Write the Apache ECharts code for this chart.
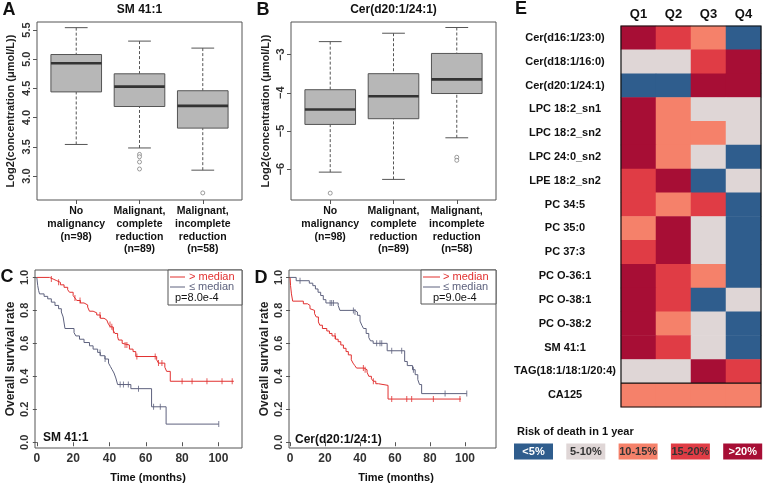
<!DOCTYPE html>
<html><head><meta charset="utf-8">
<script src="https://cdn.jsdelivr.net/npm/echarts@6/dist/echarts.min.js"></script>
<style>html,body{margin:0;padding:0;background:#fff}#c{width:763px;height:486px}</style>
</head><body><div id="c"></div>
<script>
const FONT = '"Liberation Sans", Arial, Helvetica, sans-serif';

// ---------- Panels A/B : box plots ----------
const boxCategories = ['No\nmalignancy\n(n=98)', 'Malignant,\ncomplete\nreduction\n(n=89)', 'Malignant,\nincomplete\nreduction\n(n=58)'];
// [lower whisker, Q1, median, Q3, upper whisker]
const smStats = [[3.54, 4.44, 4.93, 5.08, 5.54], [3.48, 4.19, 4.53, 4.75, 5.31], [3.10, 3.82, 4.20, 4.46, 5.19]];
const smOutliers = [[2, 3.37], [2, 3.33], [2, 3.24], [2, 3.12], [3, 2.71]];
const smTicks = [3.0, 3.5, 4.0, 4.5, 5.0, 5.5];
const cerStats = [[-6.08, -4.83, -4.44, -3.92, -2.66], [-6.27, -4.68, -4.09, -3.50, -2.44], [-5.18, -4.02, -3.65, -2.97, -2.29]];
const cerOutliers = [[1, -6.63], [3, -5.69], [3, -5.77]];
const cerTicks = [-6, -5, -4, -3];

// ---------- Panels C/D : Kaplan-Meier ----------
const timeTicks = [0, 20, 40, 60, 80, 100];
const survTicks = [0, 0.2, 0.4, 0.6, 0.8, 1.0];
const smHigh = [[0,1],[7,0.99],[9,0.98],[11,0.97],[13,0.955],[15,0.94],[17,0.925],[18,0.91],[20,0.89],[21,0.875],[22,0.86],[24,0.845],[26,0.833],[28,0.82],[29,0.795],[31,0.785],[33,0.772],[35,0.752],[37,0.742],[38.5,0.73],[39.5,0.715],[40.5,0.70],[42,0.68],[43,0.66],[44.5,0.64],[45,0.62],[47,0.60],[48,0.59],[51,0.565],[53,0.55],[54.5,0.52],[66,0.50],[67,0.48],[70.5,0.455],[71.5,0.43],[73.5,0.37],[108.5,0.37]];
const smLow = [[0,1],[0.5,0.95],[1,0.92],[1.5,0.90],[4,0.885],[6,0.87],[8,0.85],[10,0.83],[12,0.81],[13.5,0.79],[14.5,0.76],[15.5,0.69],[20.5,0.665],[21.5,0.645],[23.5,0.625],[26,0.605],[29,0.585],[31,0.565],[33.5,0.545],[35,0.525],[37.5,0.505],[39.5,0.48],[40.5,0.46],[41.5,0.44],[42.5,0.42],[43.5,0.39],[44.5,0.35],[51.8,0.325],[63.2,0.215],[71.2,0.11],[100.2,0.11]];
const smHighCensor = [8, 12, 21, 23.8, 34.8, 40.3, 41.3, 42.2, 48.6, 49.6, 55.1, 65.2, 67, 68.9, 80, 85.5, 93.7, 102, 107.6];
const smLowCensor = [34.8, 37.6, 45.9, 47.7, 50.4, 56, 64.3, 68, 100.2];
const cerHigh = [[0,1],[0.3,0.95],[0.8,0.90],[1.5,0.856],[7.6,0.84],[10,0.83],[11.4,0.81],[12.5,0.80],[14,0.78],[15,0.76],[16.2,0.73],[17,0.71],[18.5,0.69],[21,0.675],[22.5,0.66],[24,0.645],[26,0.625],[27.5,0.61],[29,0.59],[30.5,0.57],[32,0.55],[33.3,0.53],[35,0.50],[36,0.48],[37,0.465],[38,0.45],[42.3,0.44],[44,0.425],[45,0.40],[46.5,0.385],[47.6,0.37],[49,0.355],[50.5,0.345],[56,0.262],[97.7,0.262]];
const cerLow = [[0,1],[3.5,0.98],[11,0.965],[13,0.95],[14.5,0.93],[16,0.91],[17.5,0.89],[19,0.865],[20.5,0.845],[27.5,0.83],[28.5,0.80],[37,0.79],[38.5,0.77],[40,0.735],[41,0.71],[42,0.69],[43.5,0.66],[45,0.635],[46,0.615],[47.5,0.60],[55.5,0.555],[65.5,0.49],[67,0.465],[70,0.44],[71.5,0.41],[73,0.38],[74,0.35],[75.2,0.295],[101,0.295]];
const cerHighCensor = [25.7, 41.9, 42.9, 47.6, 58.1, 66.7, 69.5, 81.9, 97.1];
const cerLowCensor = [5.7, 22.9, 23.8, 24.8, 36.2, 37.1, 49.5, 51.4, 52.4, 58.1, 63.8, 70.5, 88.6, 101];
const legendNames = ['> median', '\u2264 median'];
const pValues = ['p=8.0e-4', 'p=9.0e-4'];

// ---------- Panel E : heatmap ----------
const quartiles = ['Q1', 'Q2', 'Q3', 'Q4'];
const rowNames = ['Cer(d16:1/23:0)', 'Cer(d18:1/16:0)', 'Cer(d20:1/24:1)', 'LPC 18:2_sn1', 'LPC 18:2_sn2', 'LPC 24:0_sn2', 'LPE 18:2_sn2', 'PC 34:5', 'PC 35:0', 'PC 37:3', 'PC O-36:1', 'PC O-38:1', 'PC O-38:2', 'SM 41:1', 'TAG(18:1/18:1/20:4)', 'CA125'];
// risk class 0:<5% 1:5-10% 2:10-15% 3:15-20% 4:>20%
const riskClass = [
  [4, 3, 2, 0], [1, 1, 3, 4], [0, 0, 4, 4], [4, 2, 1, 1], [4, 2, 2, 1], [4, 2, 1, 0], [3, 4, 0, 1],
  [3, 2, 3, 0], [2, 4, 1, 0], [3, 4, 1, 0], [4, 3, 2, 0], [4, 3, 0, 1], [4, 2, 1, 0], [4, 3, 1, 0],
  [1, 1, 4, 3], [2, 2, 2, 2]
];
const riskLabels = ['<5%', '5-10%', '10-15%', '15-20%', '>20%'];
const riskColors = ['#2f5d8d', '#dfd6d6', '#f5816a', '#e03c45', '#a70e35'];
const riskTextColors = ['#fff', '#333', '#333', '#333', '#fff'];

const RED = '#e1302f', SLATE = '#5e627e', FRAME = '#555';

function survAt(curve, t) { let s = curve[0][1]; for (const p of curve) { if (p[0] <= t) s = p[1]; else break; } return s; }

function boxRender(params, api) {
  const x = api.value(0), lo = api.value(1), q1 = api.value(2), med = api.value(3), q3 = api.value(4), hi = api.value(5);
  const half = 0.4, cap = 0.18;
  const tl = api.coord([x - half, q3]), br = api.coord([x + half, q1]);
  const m = api.coord([x, med]), pHi = api.coord([x, hi]), pLo = api.coord([x, lo]);
  const cl = api.coord([x - cap, hi])[0], cr = api.coord([x + cap, hi])[0];
  const dash = { stroke: '#555', lineWidth: 1, lineDash: [3, 2] };
  const solid = { stroke: '#555', lineWidth: 1 };
  return { type: 'group', children: [
    { type: 'line', shape: { x1: pHi[0], y1: pHi[1], x2: pHi[0], y2: tl[1] }, style: dash },
    { type: 'line', shape: { x1: pLo[0], y1: pLo[1], x2: pLo[0], y2: br[1] }, style: dash },
    { type: 'line', shape: { x1: cl, y1: pHi[1], x2: cr, y2: pHi[1] }, style: solid },
    { type: 'line', shape: { x1: cl, y1: pLo[1], x2: cr, y2: pLo[1] }, style: solid },
    { type: 'rect', shape: { x: tl[0], y: tl[1], width: br[0] - tl[0], height: br[1] - tl[1] }, style: { fill: '#b7b7b7', stroke: '#555', lineWidth: 1 } },
    { type: 'line', shape: { x1: tl[0], y1: m[1], x2: br[0], y2: m[1] }, style: { stroke: '#333', lineWidth: 2.6 } }
  ] };
}

const tickLbl = { fontFamily: FONT, fontWeight: 'bold', color: '#333' };
function boxXAxis(g) {
  return { gridIndex: g, type: 'value', min: 0.38, max: 3.62, axisLine: { show: false }, splitLine: { show: false },
    axisTick: { show: true, customValues: [1, 2, 3], length: 4, lineStyle: { color: FRAME } },
    axisLabel: { customValues: [1, 2, 3], formatter: v => boxCategories[Math.round(v) - 1], fontFamily: FONT, fontWeight: 'bold', fontSize: 10.5, lineHeight: 12.7, color: '#111', margin: 5, verticalAlign: 'top' } };
}
function yAx(g, min, max, ticks, fmt, name, gap, nameSize) {
  return { gridIndex: g, type: 'value', min: min, max: max, axisLine: { show: false }, splitLine: { show: false },
    axisTick: { show: true, customValues: ticks, length: 4, lineStyle: { color: FRAME } },
    axisLabel: Object.assign({ customValues: ticks, rotate: 90, formatter: fmt, fontSize: 11, margin: 5 }, tickLbl),
    name: name, nameLocation: 'middle', nameGap: gap, nameRotate: 90,
    nameTextStyle: { fontFamily: FONT, fontWeight: 'bold', fontSize: nameSize, color: '#222' } };
}
function timeAxis(g, min, max) {
  return { gridIndex: g, type: 'value', min: min, max: max, axisLine: { show: false }, splitLine: { show: false },
    axisTick: { show: true, customValues: timeTicks, length: 4, lineStyle: { color: FRAME } },
    axisLabel: Object.assign({ customValues: timeTicks, fontSize: 12, margin: 5 }, tickLbl) };
}

const outlierStyle = { color: '#fff', borderColor: '#666', borderWidth: 0.8 };
const series = [];
series.push({ type: 'custom', xAxisIndex: 0, yAxisIndex: 0, renderItem: boxRender, data: smStats.map((s, i) => [i + 1].concat(s)) });
series.push({ type: 'scatter', xAxisIndex: 0, yAxisIndex: 0, symbol: 'circle', symbolSize: 4, itemStyle: outlierStyle, data: smOutliers, z: 5 });
series.push({ type: 'custom', xAxisIndex: 1, yAxisIndex: 1, renderItem: boxRender, data: cerStats.map((s, i) => [i + 1].concat(s)) });
series.push({ type: 'scatter', xAxisIndex: 1, yAxisIndex: 1, symbol: 'circle', symbolSize: 4, itemStyle: outlierStyle, data: cerOutliers, z: 5 });
function km(ax, curve, color) { return { type: 'line', xAxisIndex: ax, yAxisIndex: ax, step: 'end', symbol: 'none', lineStyle: { color: color, width: 1 }, data: curve, z: 3 }; }
function cens(ax, curve, times, color) { return { type: 'scatter', xAxisIndex: ax, yAxisIndex: ax, symbol: 'rect', symbolSize: [1, 6], itemStyle: { color: color }, data: times.map(t => [t, survAt(curve, t)]), z: 3 }; }
series.push(km(2, smLow, SLATE), km(2, smHigh, RED), cens(2, smLow, smLowCensor, SLATE), cens(2, smHigh, smHighCensor, RED));
series.push(km(3, cerHigh, RED), km(3, cerLow, SLATE), cens(3, cerHigh, cerHighCensor, RED), cens(3, cerLow, cerLowCensor, SLATE));
const heatData = [];
riskClass.forEach((row, r) => row.forEach((v, c) => heatData.push([c, r, v])));
const heatIndex = series.length;
series.push({ type: 'heatmap', xAxisIndex: 4, yAxisIndex: 4, data: heatData, itemStyle: { borderWidth: 0 }, emphasis: { disabled: true } });

const graphic = [];
function txt(x, y, text, size, opts) {
  graphic.push({ type: 'text', x: x, y: y, z: 50, style: Object.assign({ text: text, font: (opts && opts.weight || 'bold') + ' ' + size + 'px ' + FONT, fill: '#111', align: 'center', verticalAlign: 'middle' }, opts && opts.style || {}) });
}
// panel letters and titles
txt(9, 10, 'A', 18); txt(263, 10, 'B', 18); txt(7, 277, 'C', 18); txt(261, 278, 'D', 18); txt(521, 9, 'E', 18);
txt(139.5, 10, 'SM 41:1', 12); txt(393.5, 10, 'Cer(d20:1/24:1)', 12);
txt(43, 438, 'SM 41:1', 12, { style: { align: 'left' } });
txt(295, 440, 'Cer(d20:1/24:1)', 12, { style: { align: 'left' } });
txt(148, 478, 'Time (months)', 11); txt(396, 478, 'Time (months)', 11);
// KM legends
function kmLegend(x0, y0, w, h, textX, lineX1, lineX2, pX, p) {
  graphic.push({ type: 'rect', z: 40, shape: { x: x0, y: y0, width: w, height: h }, style: { fill: '#fff', stroke: FRAME, lineWidth: 1 } });
  graphic.push({ type: 'line', z: 50, shape: { x1: lineX1, y1: y0 + 7, x2: lineX2, y2: y0 + 7 }, style: { stroke: RED, lineWidth: 1 } });
  graphic.push({ type: 'line', z: 50, shape: { x1: lineX1, y1: y0 + 17, x2: lineX2, y2: y0 + 17 }, style: { stroke: SLATE, lineWidth: 1 } });
  txt(textX, y0 + 7, legendNames[0], 11, { weight: 'normal', style: { align: 'left', fill: RED } });
  txt(textX, y0 + 17, legendNames[1], 11, { weight: 'normal', style: { align: 'left', fill: SLATE } });
  txt(pX, y0 + 27.5, p, 11, { weight: 'normal', style: { align: 'left', fill: '#111' } });
}
kmLegend(168, 270, 74, 35, 189, 170, 185, 175, pValues[0]);
kmLegend(421, 270, 75, 34, 443, 423, 440, 433, pValues[1]);
// heatmap frame and separator
graphic.push({ type: 'rect', z: 45, shape: { x: 621, y: 26, width: 140, height: 381 }, style: { fill: 'none', stroke: '#111', lineWidth: 1.2 } });
graphic.push({ type: 'line', z: 45, shape: { x1: 621, y1: 26 + 381 * 15 / 16, x2: 761, y2: 26 + 381 * 15 / 16 }, style: { stroke: '#111', lineWidth: 1.2 } });
// risk legend
txt(517, 432, 'Risk of death in 1 year', 11, { style: { align: 'left' } });
riskLabels.forEach((lab, i) => {
  const x = 514 + i * 52.3;
  graphic.push({ type: 'rect', z: 40, shape: { x: x, y: 443.5, width: 39, height: 16 }, style: { fill: riskColors[i] } });
  txt(x + 19.5, 451.5, lab, 11, { style: { fill: riskTextColors[i] } });
});

const gridStyle = { show: true, borderColor: FRAME, borderWidth: 1, backgroundColor: 'transparent' };
const option = {
  animation: false,
  textStyle: { fontFamily: FONT },
  grid: [
    Object.assign({ left: 37, top: 22, width: 205, height: 178 }, gridStyle),
    Object.assign({ left: 291, top: 22, width: 205, height: 178 }, gridStyle),
    Object.assign({ left: 35, top: 270, width: 207, height: 178 }, gridStyle),
    Object.assign({ left: 289, top: 270, width: 207, height: 178 }, gridStyle),
    { left: 621, top: 26, width: 140, height: 381, show: false }
  ],
  xAxis: [
    boxXAxis(0), boxXAxis(1), timeAxis(2, -1, 113), timeAxis(3, -0.6, 117.7),
    { gridIndex: 4, type: 'category', data: quartiles, position: 'top', axisLine: { show: false }, axisTick: { show: false }, splitLine: { show: false },
      axisLabel: { fontFamily: FONT, fontWeight: 'bold', fontSize: 13, color: '#111', margin: 5 } }
  ],
  yAxis: [
    yAx(0, 2.589, 5.637, smTicks, v => v.toFixed(1), 'Log2(concentration (\u03bcmol/L))', 21, 11),
    yAx(1, -6.81, -2.146, cerTicks, v => '\u2212' + Math.abs(v), 'Log2(concentration (\u03bcmol/L))', 19.5, 11),
    yAx(2, -0.035, 1.045, survTicks, v => v.toFixed(1), 'Overall survival rate', 18.5, 12),
    yAx(3, -0.035, 1.045, survTicks, v => v.toFixed(1), 'Overall survival rate', 18.5, 12),
    { gridIndex: 4, type: 'category', data: rowNames, inverse: true, axisLine: { show: false }, axisTick: { show: false }, splitLine: { show: false },
      axisLabel: { fontFamily: FONT, fontWeight: 'bold', fontSize: 11, color: '#111', align: 'center', margin: 56 } }
  ],
  visualMap: [{ type: 'piecewise', show: false, dimension: 2, seriesIndex: heatIndex,
    pieces: riskColors.map((c, i) => ({ value: i, color: c })) }],
  series: series,
  graphic: graphic
};
const chart = echarts.init(document.getElementById('c'), null, { renderer: 'canvas' });
chart.setOption(option);
</script>
</body></html>
